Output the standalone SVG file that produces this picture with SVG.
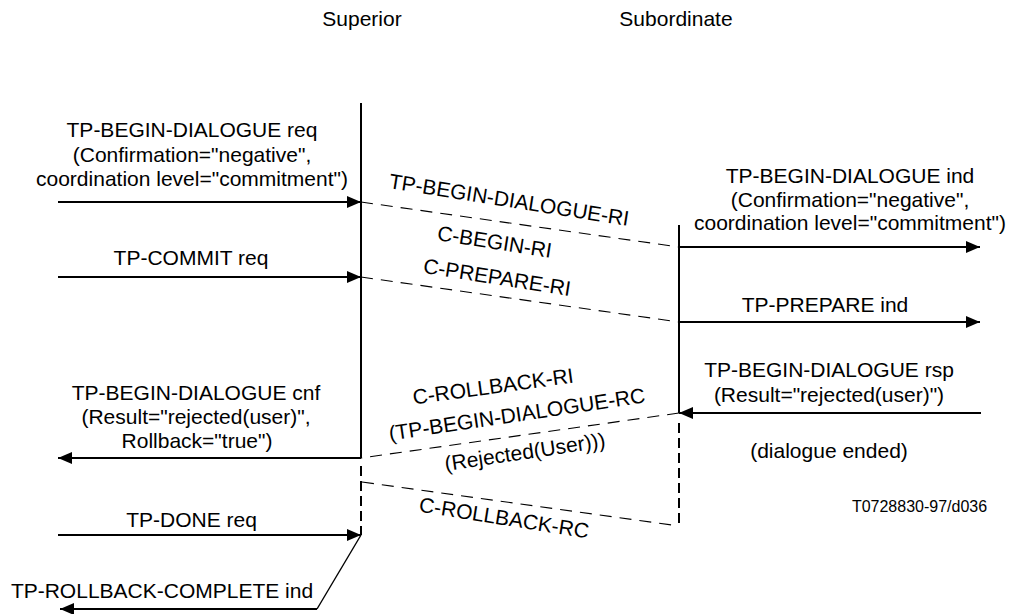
<svg xmlns="http://www.w3.org/2000/svg" width="1011" height="614" viewBox="0 0 1011 614">
<style>
text{font-family:"Liberation Sans",Arial,sans-serif;font-size:21px;fill:#000}
.c{text-anchor:middle}
.life{stroke:#000;stroke-width:2;fill:none}
.lifed{stroke:#000;stroke-width:2;fill:none;stroke-dasharray:10 5}
.msg{stroke:#000;stroke-width:2.2;fill:none;marker-end:url(#ah)}
.pdu{stroke:#000;stroke-width:1.1;fill:none;stroke-dasharray:12 8}
.small{font-size:16px}
</style>
<defs>
<marker id="ah" markerUnits="userSpaceOnUse" markerWidth="14" markerHeight="12" refX="14" refY="6" orient="auto">
<path d="M0,0 L14,6 L0,12 z" fill="#000"/>
</marker>
</defs>
<rect width="1011" height="614" fill="#fff"/>
<g id="superior">
<text class="c" x="362" y="26">Superior</text>
<line class="life" x1="361" y1="103" x2="361" y2="458"/>
<line class="lifed" x1="361" y1="466" x2="361" y2="535"/>
</g>
<g id="subordinate">
<text class="c" x="676" y="26">Subordinate</text>
<line class="life" x1="679" y1="225" x2="679" y2="413"/>
<line class="lifed" x1="679" y1="423" x2="679" y2="527"/>
</g>
<g id="connectors">
<line class="msg" x1="58" y1="202" x2="361" y2="202"/>
<line class="msg" x1="58" y1="277" x2="361" y2="277"/>
<line class="pdu" x1="361" y1="202" x2="679" y2="247"/>
<line class="pdu" x1="361" y1="277" x2="679" y2="322"/>
<line class="msg" x1="679" y1="247" x2="980" y2="247"/>
<line class="msg" x1="679" y1="322" x2="980" y2="322"/>
<line class="msg" x1="981" y1="413" x2="679" y2="413"/>
<line class="pdu" x1="679" y1="413" x2="361" y2="458"/>
<line class="msg" x1="361" y1="458" x2="58" y2="458"/>
<line class="pdu" x1="362" y1="482" x2="679" y2="526"/>
<line class="msg" x1="58" y1="535" x2="361" y2="535"/>
<path d="M361,535 L317,609" stroke="#000" stroke-width="1.4" fill="none"/>
<path d="M317,609 L60,609" class="msg"/>
</g>
<g id="begin-req">
<text class="c" x="192" y="137">TP-BEGIN-DIALOGUE req</text>
<text class="c" x="192" y="161.5">(Confirmation="negative",</text>
<text class="c" x="192" y="186">coordination level="commitment")</text>
</g>
<g id="commit-req"><text class="c" x="191" y="265">TP-COMMIT req</text></g>
<g id="begin-ind">
<text class="c" x="850" y="183">TP-BEGIN-DIALOGUE ind</text>
<text class="c" x="850" y="206.5">(Confirmation="negative",</text>
<text class="c" x="850" y="230">coordination level="commitment")</text>
</g>
<g id="prepare-ind"><text class="c" x="825" y="312">TP-PREPARE ind</text></g>
<g id="begin-rsp">
<text class="c" x="829" y="376.5">TP-BEGIN-DIALOGUE rsp</text>
<text class="c" x="829" y="401.5">(Result="rejected(user)")</text>
</g>
<g id="dialogue-ended"><text class="c" x="829" y="458">(dialogue ended)</text></g>
<g id="ref"><text class="c small" x="919.5" y="512">T0728830-97/d036</text></g>
<g id="begin-cnf">
<text class="c" x="196" y="399.5">TP-BEGIN-DIALOGUE cnf</text>
<text class="c" x="196" y="423.5">(Result="rejected(user)",</text>
<text class="c" x="197" y="448">Rollback="true")</text>
</g>
<g id="done-req"><text class="c" x="191.5" y="527">TP-DONE req</text></g>
<g id="rollback-complete"><text class="c" x="162" y="598">TP-ROLLBACK-COMPLETE ind</text></g>
<g id="pdu-labels">
<text class="c" transform="translate(508,207) rotate(9)">TP-BEGIN-DIALOGUE-RI</text>
<text class="c" transform="translate(493.5,249) rotate(9)">C-BEGIN-RI</text>
<text class="c" transform="translate(496,284.5) rotate(9)">C-PREPARE-RI</text>
<text class="c" transform="translate(494,393.5) rotate(-7.8)">C-ROLLBACK-RI</text>
<text class="c" transform="translate(518,421.5) rotate(-8.5)">(TP-BEGIN-DIALOGUE-RC</text>
<text class="c" transform="translate(526,459) rotate(-8.5)">(Rejected(User)))</text>
<text class="c" transform="translate(503,525) rotate(9)">C-ROLLBACK-RC</text>
</g>
</svg>
